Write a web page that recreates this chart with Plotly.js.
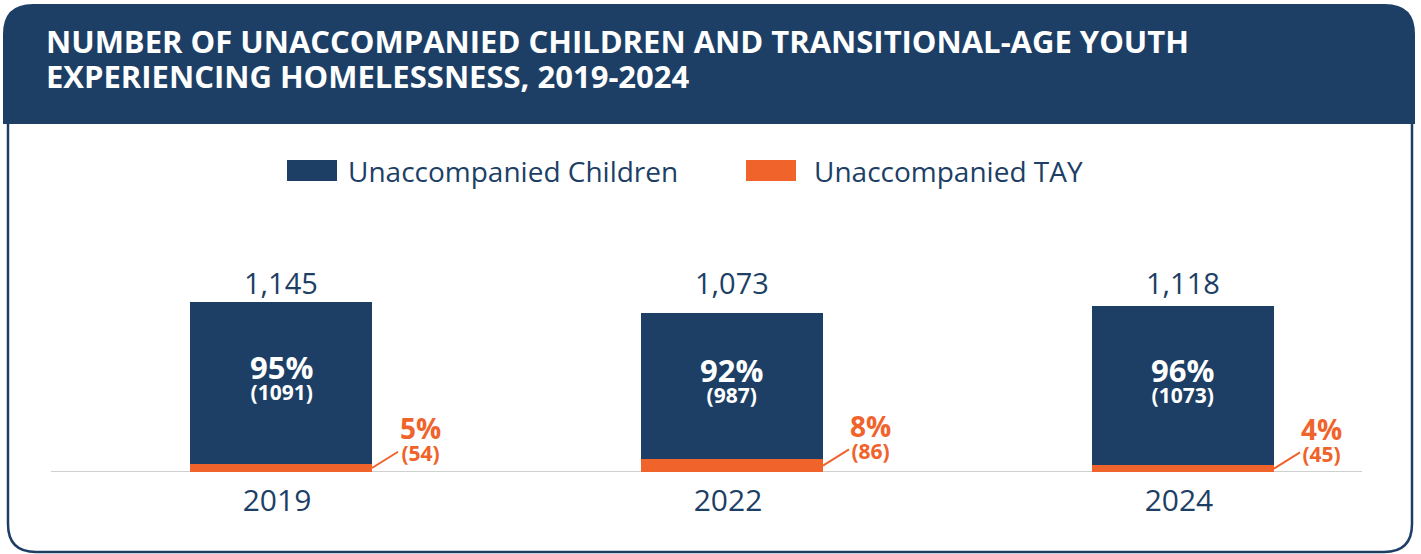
<!DOCTYPE html>
<html><head><meta charset="utf-8">
<script src="https://cdn.plot.ly/plotly-3.0.1.min.js"></script>
<style>html,body{margin:0;padding:0;background:#fff;overflow:hidden}#chart{width:1421px;height:554px}</style>
</head><body><div id="chart"></div>
<script>
// ---- data ----
const years = ['2019', '2022', '2024'];
const childrenCounts = [1091, 987, 1073];
const tayCounts = [54, 86, 45];
const seriesNames = ['Unaccompanied Children', 'Unaccompanied TAY'];
const titleLines = ['NUMBER OF UNACCOMPANIED CHILDREN AND TRANSITIONAL-AGE YOUTH', 'EXPERIENCING HOMELESSNESS, 2019-2024'];

// ---- layout geometry ----
const W = 1421, H = 554, L = 51, R = 59, T = 130, B = 82;
const PW = W - L - R, PH = H - T - B;
const px = x => (x - L) / PW, py = y => (H - B - y) / PH;
const P = (x, y) => px(x).toFixed(5) + ',' + py(y).toFixed(5);
const BLUE = '#1d3f66', ORANGE = '#f0632b';
const FONT = '"Open Sans", sans-serif';
const barW = 0.4036;
const totals = childrenCounts.map((c, i) => c + tayCounts[i]);
const maxTotal = Math.max(...totals);
const fmt = n => n.toLocaleString('en-US');
const pct = (v, t) => Math.round(100 * v / t) + '%';
const sp = (size, s) => '<span style="font-size:' + size + 'px"><b>' + s + '</b></span>';

const traces = [
  { type: 'bar', name: seriesNames[1], x: years, y: tayCounts, width: barW,
    marker: { color: ORANGE }, hoverinfo: 'none' },
  { type: 'bar', name: seriesNames[0], x: years, y: childrenCounts, width: barW,
    marker: { color: BLUE }, hoverinfo: 'none' }
];

const annotations = [];
years.forEach((yr, i) => {
  // total above the bars (aligned on one row)
  annotations.push({ x: i, y: maxTotal, xref: 'x', yref: 'y', text: fmt(totals[i]),
    showarrow: false, yanchor: 'bottom', yshift: -2, font: { family: FONT, size: 29, color: BLUE } });
  // children share inside bar
  const mid = tayCounts[i] + childrenCounts[i] / 2;
  annotations.push({ x: i, y: mid, xref: 'x', yref: 'y',
    text: sp(31, pct(childrenCounts[i], totals[i])) + '<br>' + sp(21, '(' + childrenCounts[i] + ')'),
    showarrow: false, yanchor: 'middle', yshift: 7, font: { family: FONT, size: 16, color: '#ffffff' } });
  // TAY label to the right with leader line
  annotations.push({ x: i + barW / 2, y: tayCounts[i] / 2, xref: 'x', yref: 'y',
    text: sp(28, pct(tayCounts[i], totals[i])) + '<br>' + sp(21, '(' + tayCounts[i] + ')'),
    showarrow: true, arrowhead: 0, arrowwidth: 2, arrowcolor: ORANGE, ax: 48, ay: -30,
    font: { family: FONT, size: 17, color: ORANGE } });
});
// custom legend text
annotations.push({ xref: 'paper', yref: 'paper', x: px(346), y: py(171), xanchor: 'left', yanchor: 'middle',
  text: seriesNames[0], showarrow: false, font: { family: FONT, size: 28, color: BLUE } });
annotations.push({ xref: 'paper', yref: 'paper', x: px(812), y: py(171), xanchor: 'left', yanchor: 'middle',
  text: seriesNames[1], showarrow: false, font: { family: FONT, size: 28, color: BLUE } });

const shapes = [
  // header band
  { type: 'path', xref: 'paper', yref: 'paper', layer: 'below', line: { width: 0 }, fillcolor: BLUE,
    path: 'M' + P(3, 124) + ' L' + P(3, 34) + ' Q' + P(3, 4) + ' ' + P(33, 4) + ' L' + P(1385, 4) +
          ' Q' + P(1415, 4) + ' ' + P(1415, 34) + ' L' + P(1415, 124) + ' Z' },
  // frame
  { type: 'path', xref: 'paper', yref: 'paper', layer: 'below', line: { width: 2.5, color: BLUE },
    path: 'M' + P(8, 122) + ' L' + P(8, 524) + ' Q' + P(8, 552) + ' ' + P(36, 552) + ' L' + P(1384, 552) +
          ' Q' + P(1412, 552) + ' ' + P(1412, 524) + ' L' + P(1412, 122) },
  // baseline
  { type: 'line', xref: 'paper', yref: 'y', x0: 0, x1: 1, y0: 0, y1: 0, layer: 'below',
    line: { color: '#cfcfcf', width: 2 } },
  // legend swatches
  { type: 'rect', xref: 'paper', yref: 'paper', x0: px(287), x1: px(337), y0: py(160), y1: py(181),
    fillcolor: BLUE, line: { width: 0 } },
  { type: 'rect', xref: 'paper', yref: 'paper', x0: px(746), x1: px(796), y0: py(160), y1: py(181),
    fillcolor: ORANGE, line: { width: 0 } }
];

const layout = {
  width: W, height: H,
  margin: { l: L, r: R, t: T, b: B, pad: 0 },
  paper_bgcolor: '#ffffff', plot_bgcolor: 'rgba(0,0,0,0)',
  barmode: 'stack', showlegend: false,
  title: { text: titleLines.map(s => sp(31, s)).join('<br>'), xref: 'container', yref: 'container',
    x: 46 / W, xanchor: 'left', y: 1 - 53 / H, yanchor: 'middle',
    font: { family: FONT, size: 27, color: '#ffffff' } },
  xaxis: { type: 'category', range: [-0.51, 2.397], showgrid: false, zeroline: false, showline: false,
    ticks: '', tickfont: { family: FONT, size: 30, color: BLUE }, fixedrange: true,
    ticklabelstandoff: 8, ticklabelshift: -4 },
  yaxis: { range: [0, 2303], visible: false, fixedrange: true },
  annotations, shapes
};

Plotly.newPlot('chart', traces, layout, { displayModeBar: false, staticPlot: true });
</script>
</body></html>
